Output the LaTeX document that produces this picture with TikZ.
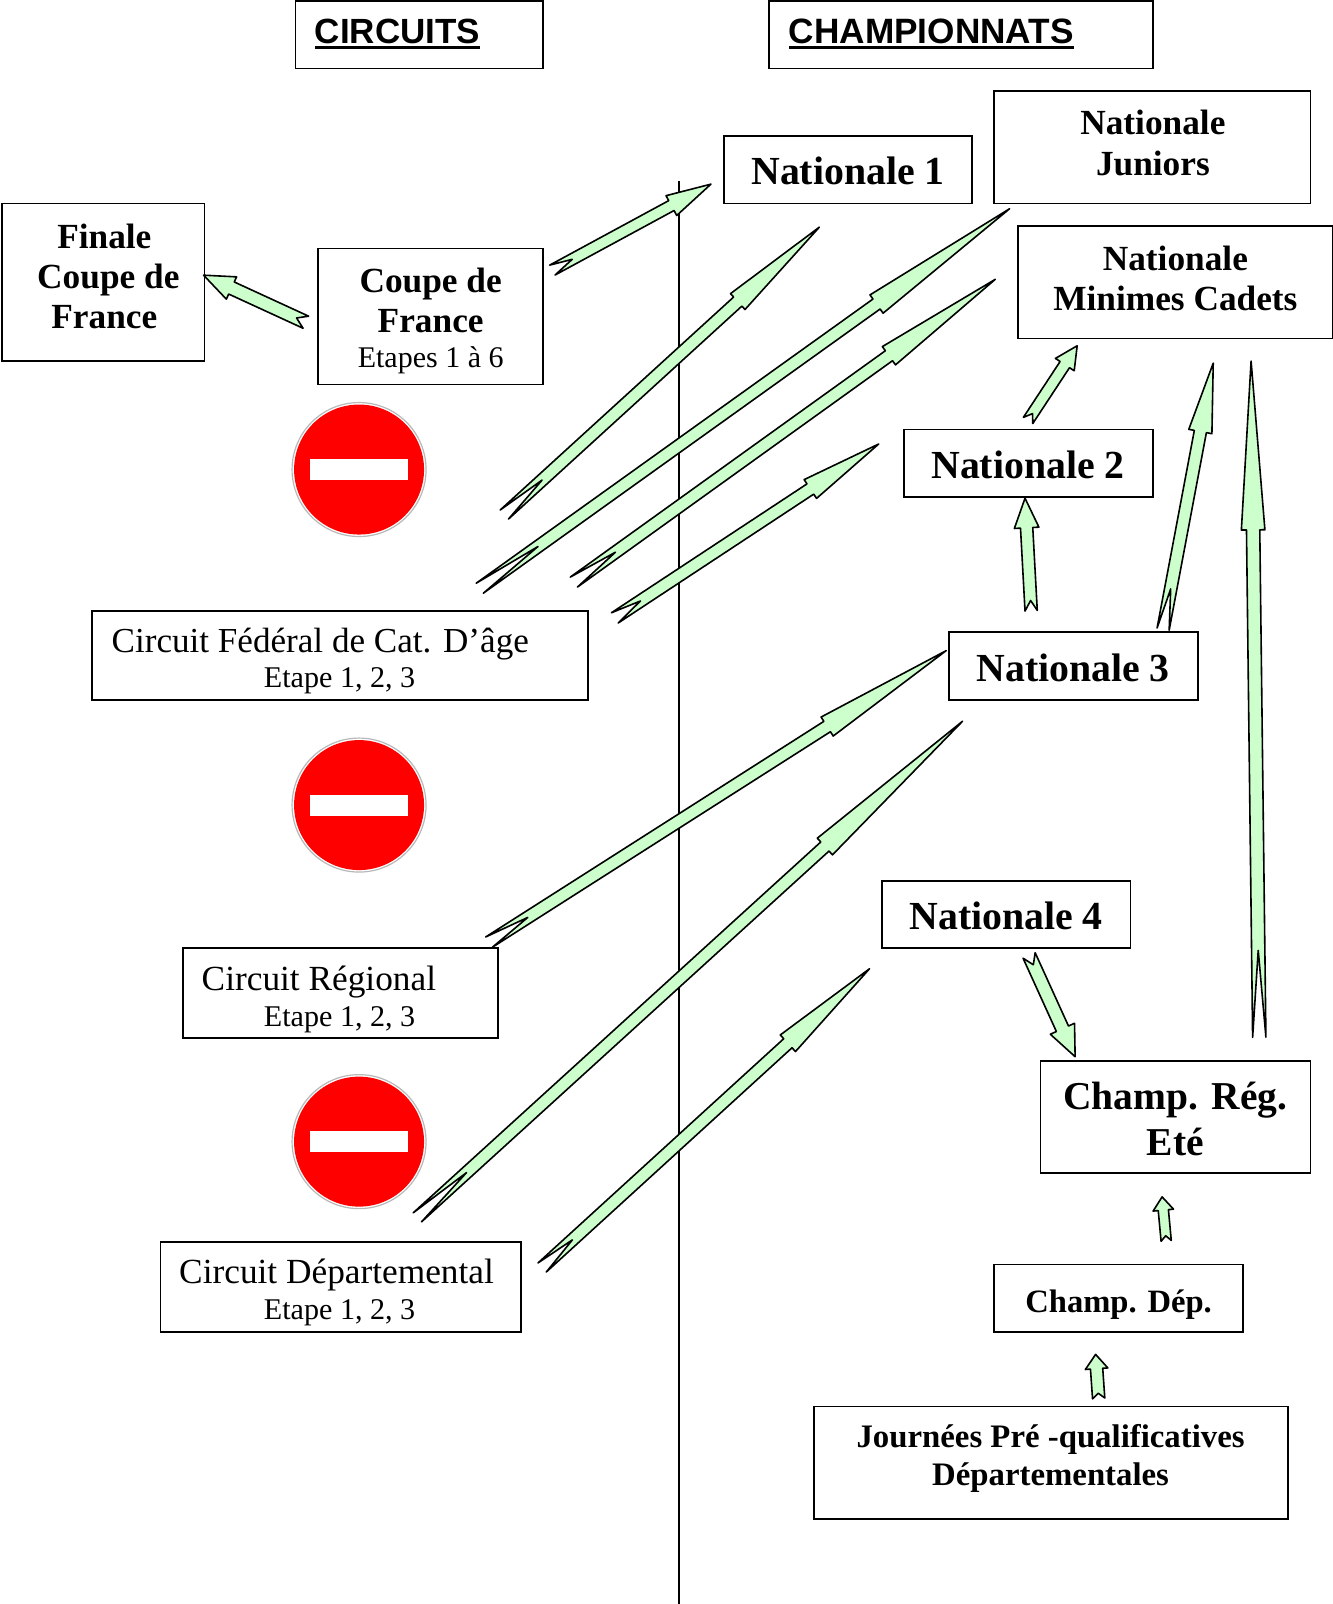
\documentclass[tikz,border=0pt]{standalone}
\usepackage{fontspec}
\setmainfont{Liberation Serif}
\setsansfont{Liberation Sans}
\usetikzlibrary{calc}
\definecolor{arrowgreen}{HTML}{CCFFCC}
\newcommand\fsz[2]{\fontsize{#1}{#2}\selectfont}
\newcommand\ulbar[1]{\setbox0\hbox{#1}\rlap{\rule[-5pt]{\wd0}{3pt}}\box0}
\tikzset{
  boxst/.style={draw=black,line width=1.7pt,fill=white,inner sep=0pt},
  txt/.style={inner sep=0pt,align=center,text=black},
  arrowst/.style={draw=black,line width=1.6pt,fill=arrowgreen,line join=round},
}
% name, x1,y1 (tail), x2,y2 (tip), shaft w, head w, head len, notch
\newcommand\blockarrow[9]{%
  \coordinate (#1-t) at (#2,#3);
  \coordinate (#1-h) at (#4,#5);
  \pgfmathsetmacro\bang{atan2(-(#5-#3),#4-#2)}%
  \pgfmathsetmacro\blen{veclen(#4-#2,#5-#3)}%
  \begin{scope}[shift={(#1-t)},rotate=\bang,x=1.023pt,y=1.023pt]
    \draw[arrowst] (0,#6/2) -- (#9,0) -- (0,-#6/2) -- (\blen-#8,-#6/2) -- (\blen-#8,-#7/2)
      -- (\blen,0) -- (\blen-#8,#7/2) -- (\blen-#8,#6/2) -- cycle;
  \end{scope}}
\newcommand\boxn[5]{\node[boxst,minimum width=1.023*(#4-#2)*1pt,minimum height=1.023*(#5-#3)*1pt] (#1) at ({(#2+#4)/2},{(#3+#5)/2}) {};}
\newcommand\nosign[3]{%
  \node[circle,draw=black!28,line width=1.2pt,fill=white,minimum size=134pt,inner sep=0pt] (#1) at (#2,#3) {};
  \node[circle,fill=red,minimum size=130pt,inner sep=0pt] (#1-disc) at (#2,#3) {};
  \node[fill=white,minimum width=98pt,minimum height=21pt,inner sep=0pt] (#1-bar) at (#2,#3) {};}
\begin{document}
\begin{tikzpicture}[x=1.023pt,y=-1.023pt]
\useasboundingbox (0,0) rectangle (1303,1568);
\coordinate (axtop) at (663.5,177);
\coordinate (axbot) at (663.5,1568);
\draw[line width=1.8pt] (axtop) -- (axbot);
% boxes
\boxn{circuits}{289}{1}{531}{67}
\boxn{champ}{752}{1}{1127}{67}
\boxn{nat1}{708}{133}{950}{199}
\boxn{natj}{972}{89}{1281}{199}
\boxn{natm}{995}{221}{1303}{331}
\boxn{finale}{2}{199}{200}{353}
\boxn{coupe}{311}{243}{531}{376}
\boxn{fed}{90}{597}{575}{684}
\boxn{nat2}{884}{420}{1127}{486}
\boxn{nat3}{928}{618}{1171}{684}
\boxn{nat4}{862}{861}{1105}{927}
\boxn{reg}{179}{927}{487}{1015}
\boxn{ete}{1017}{1037}{1281}{1147}
\boxn{dep}{972}{1236}{1215}{1302}
\boxn{cdep}{157}{1214}{509}{1302}
\boxn{jour}{796}{1375}{1259}{1485}
% signs
\nosign{s1}{351}{459}
\nosign{s2}{351}{787}
\nosign{s3}{351}{1116}
% texts
\node[txt,anchor=base west] (t-circuits) at (307.5,43) {\fsz{35}{35}\sffamily\bfseries\ulbar{CIRCUITS}};
\node[txt,anchor=base west] (t-champ) at (771,43) {\fsz{35.2}{35}\sffamily\bfseries\ulbar{CHAMPIONNATS}};
\node[txt,anchor=base] (t-nat1) at (829,180) {\fsz{39.8}{40}\bfseries Nationale 1};
\node[txt,font=\fsz{35.3}{40.6}\bfseries] (t-natj) at (1127,140) {Nationale\\Juniors};
\node[txt,font=\fsz{35.3}{40.6}\bfseries] (t-natm) at (1149,272) {Nationale\\Minimes Cadets};
\node[txt,font=\fsz{35.3}{40.2}\bfseries] (t-finale) at (102,270.5) {Finale\\\hspace*{8pt}Coupe de\\France};
\node[txt,font=\fsz{35.3}{40.2}\bfseries] (t-coupe) at (421,294) {Coupe de\\France};
\node[txt,anchor=base] (t-coupe2) at (421,359) {\fsz{30}{30}Etapes 1 à 6};
\node[txt,anchor=base west] (t-fed) at (109,638) {\fsz{35.1}{35}Circuit Fédéral de Cat. D’âge};
\node[txt,anchor=base] (t-fed2) at (332,672) {\fsz{30.1}{30}Etape 1, 2, 3};
\node[txt,anchor=base] (t-nat2) at (1005,468) {\fsz{39.8}{40}\bfseries Nationale 2};
\node[txt,anchor=base] (t-nat3) at (1049,666) {\fsz{39.8}{40}\bfseries Nationale 3};
\node[txt,anchor=base] (t-nat4) at (983.5,908.5) {\fsz{39.8}{40}\bfseries Nationale 4};
\node[txt,anchor=base west] (t-reg) at (197,968) {\fsz{35.3}{35}Circuit Régional};
\node[txt,anchor=base] (t-reg2) at (332,1003) {\fsz{30.1}{30}Etape 1, 2, 3};
\node[txt,font=\fsz{39.5}{45.5}\bfseries] (t-ete) at (1149,1094) {Champ. Rég.\\Eté};
\node[txt,anchor=base] (t-dep) at (1093.5,1283) {\fsz{32.6}{33}\bfseries Champ. Dép.};
\node[txt,anchor=base west] (t-cdep) at (175,1255) {\fsz{35.3}{35}Circuit Départemental};
\node[txt,anchor=base] (t-cdep2) at (332,1290) {\fsz{30.1}{30}Etape 1, 2, 3};
\node[txt,font=\fsz{32.8}{38}\bfseries] (t-jour) at (1027,1426) {Journées Pré -qualificatives\\Départementales};
% arrows
\blockarrow{a1}{540}{264}{695}{180}{11}{22}{44}{22}
\blockarrow{a2}{493}{503}{801}{222}{12}{21}{108}{50}
\blockarrow{a3}{469}{575}{987}{204}{12}{22}{160}{70}
\blockarrow{a4}{561}{569}{973}{273}{12}{22}{128}{50}
\blockarrow{a5}{601}{604}{859}{434}{12}{22}{80}{30}
\blockarrow{a6}{299}{315}{199}{269}{13}{24}{30}{10}
\blockarrow{a7}{1005}{411}{1053}{338}{11}{22}{22}{8}
\blockarrow{a8}{1008}{597}{1002}{487}{12}{24}{29}{10}
\blockarrow{a9}{1137}{615}{1186}{355}{12}{23}{68}{40}
\blockarrow{a10}{1231}{1014}{1223}{353}{13}{23}{165}{85}
\blockarrow{a11}{478}{921}{925}{636}{12}{22}{138}{45}
\blockarrow{a12}{408}{1190}{941}{705}{12}{22}{182}{65}
\blockarrow{a13}{530}{1239}{850}{947}{12}{22}{108}{40}
\blockarrow{a14}{1006}{934}{1051}{1033}{13}{26}{30}{10}
\blockarrow{a15}{1140}{1213}{1136}{1170}{10}{20}{13}{5}
\blockarrow{a16}{1074}{1367}{1071}{1324}{12}{22}{14}{5}
\end{tikzpicture}
\end{document}
